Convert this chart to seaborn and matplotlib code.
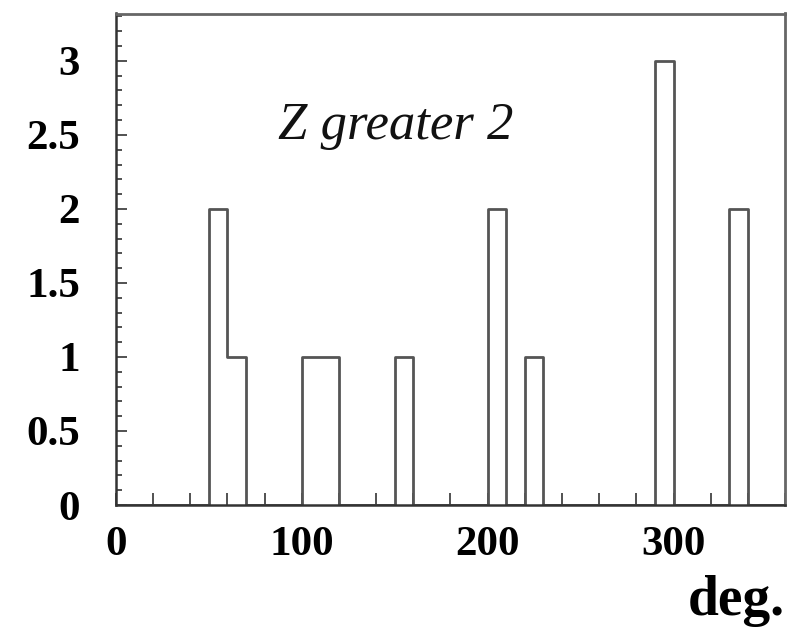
import numpy as np
import matplotlib
matplotlib.use("Agg")
import matplotlib.pyplot as plt
import seaborn as sns
from matplotlib.ticker import MultipleLocator

# Data: histogram of angles (deg.), bin width 10 from 0 to 360
bin_left_edges = [50, 60, 100, 110, 150, 200, 220, 290, 330]
counts = [2, 1, 1, 1, 1, 2, 1, 3, 2]
bin_edges = list(range(0, 370, 10))
annotation = "Z greater 2"
xlabel = "deg."

sns.set_theme(style="white")
plt.rcParams["font.family"] = ["Liberation Serif", "DejaVu Serif"]

fig = plt.figure(figsize=(7.87, 6.28), dpi=100)
ax = fig.add_axes([116/787, 1-505/628, (785-116)/787, (505-13.5)/628])

centers = [e + 5 for e in bin_left_edges]
sns.histplot(x=centers, weights=counts, bins=bin_edges, element="step",
             fill=False, color="#555555", linewidth=2.0, ax=ax)

ax.set_xlim(0, 360)
ax.set_ylim(0, 3.32)
ax.set_xlabel("")
ax.set_ylabel("")

ax.xaxis.set_major_locator(MultipleLocator(100))
ax.xaxis.set_minor_locator(MultipleLocator(20))
ax.yaxis.set_major_locator(MultipleLocator(0.5))
ax.yaxis.set_minor_locator(MultipleLocator(0.1))
ax.set_yticks([0, 0.5, 1, 1.5, 2, 2.5, 3])
ax.set_yticklabels(["0", "0.5", "1", "1.5", "2", "2.5", "3"])

ax.tick_params(axis="both", which="both", direction="in", colors="#333333",
               top=False, right=False, bottom=True, left=True, width=1.2)
ax.tick_params(axis="y", which="major", length=8, pad=26)
ax.tick_params(axis="y", which="minor", length=4)
ax.tick_params(axis="x", which="major", length=9, pad=15)
ax.tick_params(axis="x", which="minor", length=9)
for lab in ax.get_xticklabels() + ax.get_yticklabels():
    lab.set_fontweight("bold")
    lab.set_fontsize(31)
    lab.set_color("black")

for side in ["left", "bottom"]:
    ax.spines[side].set_color("#333333")
    ax.spines[side].set_linewidth(1.8)
for side in ["top", "right"]:
    ax.spines[side].set_color("#666666")
    ax.spines[side].set_linewidth(2.0)

ax.text(87, 2.47, annotation, fontsize=38, fontstyle="italic",
        ha="left", va="baseline", color="#111111")
fig.text(785/787, 1-615/628, xlabel, fontsize=40, fontweight="bold",
         ha="right", va="baseline", color="black")

fig.savefig("out.png", dpi=100)
